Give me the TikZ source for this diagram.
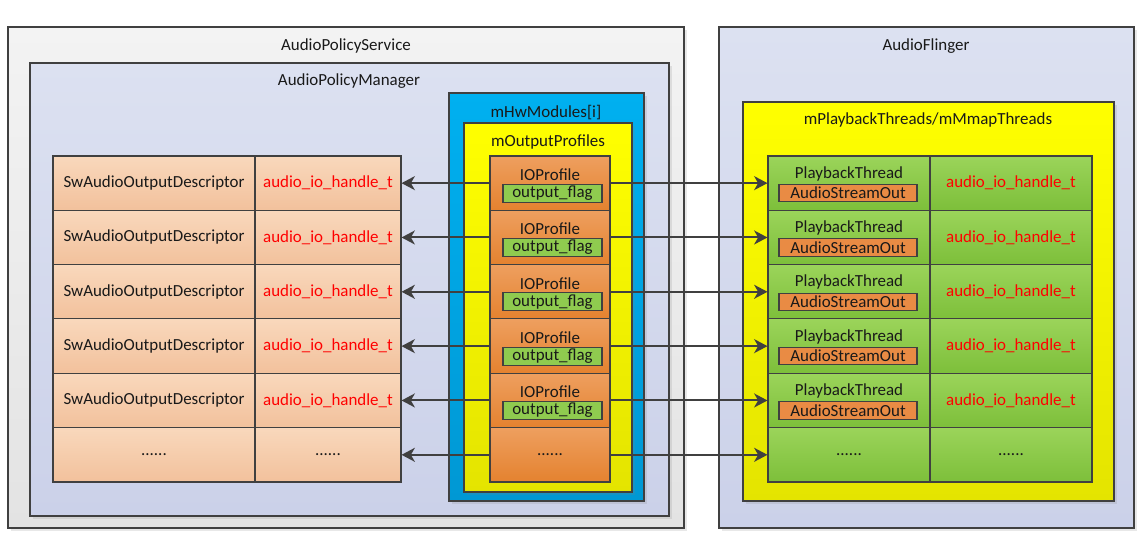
\documentclass[tikz,border=0pt]{standalone}
\usepackage{fontspec}
\setmainfont{Carlito}
\usetikzlibrary{arrows.meta,shadows}
\definecolor{lineclr}{HTML}{404040}
\definecolor{svctop}{HTML}{F3F3F3}
\definecolor{svcbot}{HTML}{E3E3E3}
\definecolor{mgrtop}{HTML}{DCE1F1}
\definecolor{mgrbot}{HTML}{CBD1E9}
\definecolor{desctop}{HTML}{F9D8BC}
\definecolor{descbot}{HTML}{F2C19C}
\definecolor{proftop}{HTML}{EE9F5F}
\definecolor{profbot}{HTML}{E4822F}
\definecolor{thrtop}{HTML}{9BD45A}
\definecolor{thrbot}{HTML}{7DBF3A}
\definecolor{flagclr}{HTML}{8FCB4F}
\definecolor{streamclr}{HTML}{E98B44}
\definecolor{yeltop}{HTML}{FFFF00}
\definecolor{yelbot}{HTML}{E4E400}
\definecolor{cyantop}{HTML}{00B0F0}
\definecolor{cyanbot}{HTML}{0098D4}
\tikzset{
  frame/.style={draw=lineclr, line width=.8pt},
  boxshadow/.style={drop shadow={shadow xshift=2.5pt, shadow yshift=-2.5pt, opacity=.18}},
  cell/.style={frame, inner sep=0pt, minimum height=40.75pt},
  desccell/.style={cell, top color=desctop, bottom color=descbot},
  profcell/.style={cell, top color=proftop, bottom color=profbot, minimum width=90pt},
  thrcell/.style={cell, top color=thrtop, bottom color=thrbot, minimum width=121.5pt},
  flagbox/.style={frame, inner sep=0pt, fill=flagclr, minimum width=74.25pt, minimum height=13.5pt},
  streambox/.style={frame, inner sep=0pt, fill=streamclr, minimum width=103.5pt, minimum height=13pt},
  handle/.style={text=red},
  link/.style={draw=lineclr, line width=1.5pt, -{Stealth[length=10pt, width=10.5pt, inset=3pt]}}
}
\begin{document}
\begin{tikzpicture}[x=0.75pt, y=-0.75pt, every node/.style={font=\fontsize{12.7}{15}\selectfont, text=black!90}]
  \useasboundingbox (0,0) rectangle (1142,537);
  % containers
  \path[frame, top color=svctop, bottom color=svcbot, boxshadow] (8,27) rectangle (684,528);
  \node (svc) at (346,46) {AudioPolicyService};
  \path[frame, top color=mgrtop, bottom color=mgrbot, boxshadow] (30,63) rectangle (669,516);
  \node (mgr) at (349,81) {AudioPolicyManager};
  \path[frame, top color=cyantop, bottom color=cyanbot, boxshadow] (449,93) rectangle (644,501);
  \node (hw) at (546,113) {mHwModules[i]};
  \path[frame, top color=yeltop, bottom color=yelbot, boxshadow] (464,123) rectangle (632,492);
  \node (prof) at (548,142) {mOutputProfiles};
  \path[frame, top color=mgrtop, bottom color=mgrbot, boxshadow] (719,27) rectangle (1134,528);
  \node (flinger) at (926,46) {AudioFlinger};
  \path[frame, top color=yeltop, bottom color=yelbot, boxshadow] (743,102) rectangle (1114,501);
  \node (threads) at (928,120) {mPlaybackThreads/mMmapThreads};
  % rows
  \foreach \i in {1,...,5} {
    \node[desccell, minimum width=151.5pt] (sw\i) at (154,128.8+54.33*\i) {SwAudioOutputDescriptor};
    \node[desccell, minimum width=109.5pt, handle] (swh\i) at (328,128.8+54.33*\i) {audio\_io\_handle\_t};
    \node[profcell] (io\i) at (550,128.8+54.33*\i) {};
    \node (iot\i) at (550,120.3+54.33*\i) {IOProfile};
    \node[flagbox] (fl\i) at (552.5,138.8+54.33*\i) {output\_flag};
    \node[thrcell] (pb\i) at (849,128.8+54.33*\i) {};
    \node (pbt\i) at (849,119.3+54.33*\i) {PlaybackThread};
    \node[streambox] (so\i) at (848,138.8+54.33*\i) {AudioStreamOut};
    \node[thrcell, handle] (pbh\i) at (1011,128.8+54.33*\i) {audio\_io\_handle\_t};
    \draw[link] (io\i.west) -- (swh\i.east);
    \draw[link] (io\i.east) -- (pb\i.west);
  }
  \node[desccell, minimum width=151.5pt] (sw6) at (154,454.8) {......};
  \node[desccell, minimum width=109.5pt] (swh6) at (328,454.8) {......};
  \node[profcell] (io6) at (550,454.8) {......};
  \node[thrcell] (pb6) at (849,454.8) {......};
  \node[thrcell] (pbh6) at (1011,454.8) {......};
  \draw[link] (io6.west) -- (swh6.east);
  \draw[link] (io6.east) -- (pb6.west);
\end{tikzpicture}
\end{document}
